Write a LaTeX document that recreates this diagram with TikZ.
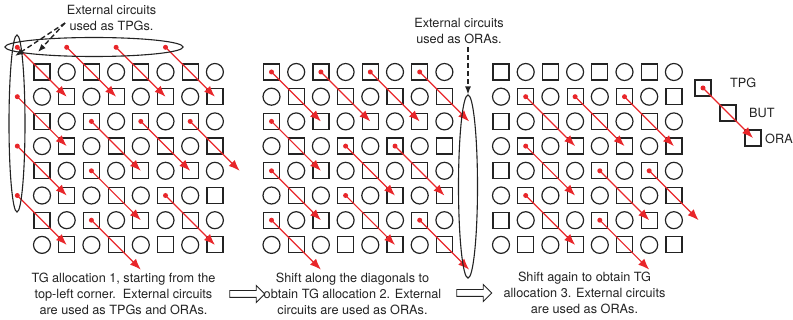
\documentclass[tikz,border=0pt]{standalone}
\usepackage{fontspec}
\setmainfont{TeX Gyre Heros}
\usetikzlibrary{arrows.meta,shapes.geometric,shapes.arrows}
\definecolor{sigred}{RGB}{232,38,42}
\definecolor{ink}{RGB}{35,35,35}

\begin{document}
\begin{tikzpicture}[x=1pt,y=-1pt,
  every node/.style={font=\fontsize{12.7}{16}\selectfont,text=ink},
  sq/.style={rectangle,draw=ink,line width=1.2pt,minimum size=16pt,inner sep=0pt},
  rd/.style={circle,draw=ink,line width=1.2pt,minimum size=17pt,inner sep=0pt},
  ext/.style={ellipse,draw=ink,line width=1.1pt,inner sep=0pt},
  link/.style={sigred,line width=1.2pt,-{Latex[length=11pt,width=8.5pt]}},
  note/.style={ink,line width=1.4pt,dash pattern=on 5pt off 3pt,-{Latex[length=8pt,width=6pt]}},
  nextstep/.style={single arrow,draw=ink,line width=0.9pt,inner xsep=0pt,inner ysep=3pt,
    minimum height=35pt,single arrow head extend=5pt,single arrow head indent=0pt}]
\useasboundingbox (0,0) rectangle (793,320);

% three 8x8 arrays, squares and circles alternating
\foreach \k/\x in {1/42,2/271.5,3/501} {
  \foreach \r in {0,...,9} {
    \foreach \c in {0,...,9} {
      \coordinate (g\k-\r-\c) at ({\x+(\c-1)*24.7},{72+(\r-1)*24.7});
    }
  }
  \foreach \r in {1,...,8} {
    \foreach \c in {1,...,8} {
      \ifodd\numexpr\r+\c\relax
        \node[rd] (b\k-\r-\c) at (g\k-\r-\c) {};
      \else
        \node[sq] (b\k-\r-\c) at (g\k-\r-\c) {};
      \fi
    }
  }
}

% TPG -> BUT -> ORA along the diagonals
\foreach \k/\r/\c in {1/0/0,1/3/3,1/6/6,1/0/2,1/3/5,1/0/4,1/3/7,1/0/6,1/2/0,1/5/3,1/4/0,1/7/3,1/6/0,
    2/1/1,2/4/4,2/7/7,2/1/3,2/4/6,2/1/5,2/1/7,2/3/1,2/6/4,2/5/1,2/7/1,
    3/2/2,3/5/5,3/2/4,3/5/7,3/2/6,3/4/2,3/7/5,3/6/2} {
  \pgfmathtruncatemacro{\rr}{\r+2}
  \pgfmathtruncatemacro{\cc}{\c+2}
  \fill[sigred] (g\k-\r-\c) circle (2.5pt);
  \draw[link] (g\k-\r-\c) -- (g\k-\rr-\cc);
}

% external circuits
\node[ext,minimum width=178pt,minimum height=19pt] (toprow) at (94,47) {};
\node[ext,minimum width=16pt,minimum height=177pt] (leftcol) at (17,123.5) {};
\node[ext,minimum width=19pt,minimum height=183pt] (rightcol) at (468,186.5) {};

\node[align=center] (tpgnote) at (111.5,17.5) {External circuits\\used as TPGs.};
\coordinate (tpgfrom) at (65,23);
\coordinate (tpgtipa) at (15,56);
\coordinate (tpgtipb) at (38,52);
\draw[note] (tpgfrom) -- (tpgtipa);
\draw[note] (tpgfrom) -- (tpgtipb);

\node[align=center] (oranote) at (459,31) {External circuits\\used as ORAs.};
\draw[note] (oranote.south -| rightcol.north) -- (rightcol.north);

% captions
\node[align=center] (cap1) at (123.5,293.5) {TG allocation 1, starting from the\\top-left corner.\ \ External circuits\\are used as TPGs and ORAs.};
\node[align=center] (cap2) at (352.5,293.5) {Shift along the diagonals to\\obtain TG allocation 2. External\\circuits are used as ORAs.};
\node[align=center] (cap3) at (584.5,293) {Shift again to obtain TG\\allocation 3. External circuits\\are used as ORAs.};
\node[nextstep] (next1) at (245.5,294) {};
\node[nextstep] (next2) at (472.5,293) {};

% legend
\node[sq] (tpgbox) at (703,88) {};
\node[sq] (butbox) at (728,113) {};
\node[sq] (orabox) at (753,138) {};
\node[anchor=west,inner sep=0pt] (tpglab) at (730,83) {TPG};
\node[anchor=west,inner sep=0pt] (butlab) at (749,113) {BUT};
\node[anchor=west,inner sep=0pt] (oralab) at (765,139) {ORA};
\fill[sigred] (tpgbox.center) circle (2.5pt);
\draw[link] (tpgbox.center) -- (orabox.center);
\end{tikzpicture}
\end{document}
